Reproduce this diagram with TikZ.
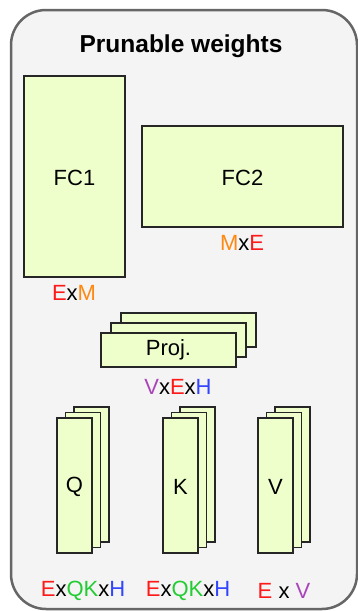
\documentclass[tikz,border=0pt]{standalone}
\usepackage{fontspec}
\setmainfont{Liberation Sans}
\definecolor{cE}{HTML}{FF1A1A}
\definecolor{cM}{HTML}{FF8811}
\definecolor{cV}{HTML}{AA44BB}
\definecolor{cH}{HTML}{3344FF}
\definecolor{cQ}{HTML}{22CC33}
\definecolor{boxfill}{HTML}{EEFFCC}
\definecolor{panel}{HTML}{F4F4F4}
\definecolor{panelline}{HTML}{666666}
\begin{document}
\begin{tikzpicture}[x=1pt,y=-1pt,
  wbox/.style={draw=black!85,line width=1.3pt,fill=boxfill},
  lbl/.style={font=\fontsize{22}{26}\selectfont,inner sep=0pt,anchor=center},
  dim/.style={font=\fontsize{22}{26}\selectfont,inner sep=0pt,anchor=center}]
\useasboundingbox (0,0) rectangle (358,611);
% panel
\draw[draw=panelline,line width=2.5pt,fill=panel,rounded corners=35pt] (11,10) rectangle (357,609);
\node[font=\fontsize{24.5}{29}\selectfont\bfseries,inner sep=0pt] (title) at (181,46) {Prunable weights};
% FC1 / FC2
\draw[wbox] (24,76) rectangle (125,277);
\node[lbl] (fc1) at (74.5,178) {FC1};
\draw[wbox] (142,126) rectangle (343,227);
\node[lbl] (fc2) at (242.5,178) {FC2};
\node[dim] (d1) at (74,293) {\textcolor{cE}{E}x\textcolor{cM}{M}};
\node[dim] (d2) at (242,243) {\textcolor{cM}{M}x\textcolor{cE}{E}};
% Proj stack
\draw[wbox] (121,313) rectangle (256,347);
\node[lbl] (p3) at (188.5,333.5) {Proj.};
\draw[wbox] (111,323) rectangle (246,357);
\node[lbl] (p2) at (178.5,343.5) {Proj.};
\draw[wbox] (101,333) rectangle (236,367);
\node[lbl] (p1) at (168.5,350) {Proj.};
\node[dim] (d3) at (178,387) {\textcolor{cV}{V}x\textcolor{cE}{E}x\textcolor{cH}{H}};
% Q K V stacks
\foreach \x/\t/\n in {57/Q/q,163/K/k,258/V/v}{
  \draw[wbox] (\x+17,407) rectangle (\x+52,542);
  \draw[wbox] (\x+8.5,412.5) rectangle (\x+43.5,547.5);
  \draw[wbox] (\x,418) rectangle (\x+35,553);
  \node[lbl] (\n) at (\x+17.5,487) {\t};
}
\node[dim] (d4) at (83,591) {\textcolor{cE}{E}x\textcolor{cQ}{QK}x\textcolor{cH}{H}};
\node[dim] (d5) at (188,591) {\textcolor{cE}{E}x\textcolor{cQ}{QK}x\textcolor{cH}{H}};
\node[dim] (d6) at (284,591) {\textcolor{cE}{E} x \textcolor{cV}{V}};
\end{tikzpicture}
\end{document}
